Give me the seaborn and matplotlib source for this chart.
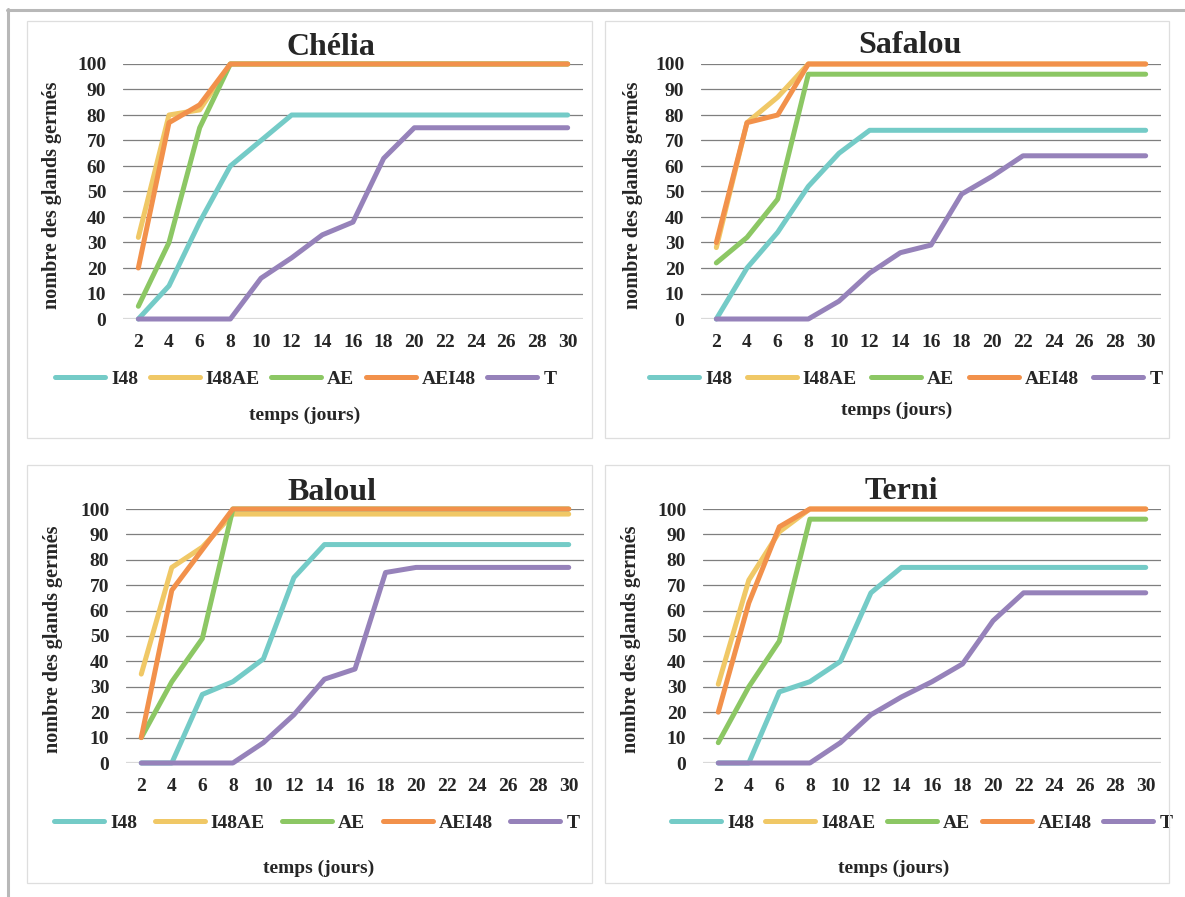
#!/usr/bin/env python3
"""
Germination des glands - 4 provenances (Chélia, Safalou, Baloul, Terni)
"""

import matplotlib
matplotlib.use("Agg")
import matplotlib.pyplot as plt
from matplotlib.patches import Rectangle
from matplotlib.lines import Line2D
import pandas as pd
import seaborn as sns

# --- data -------------------------------------------------------------
jours = [2, 4, 6, 8, 10, 12, 14, 16, 18, 20, 22, 24, 26, 28, 30]
series = ["I48", "I48AE", "AE", "AEI48", "T"]

chelia_I48 = [0, 13, 38, 60, 70, 80, 80, 80, 80, 80, 80, 80, 80, 80, 80]
chelia_I48AE = [32, 80, 82, 100, 100, 100, 100, 100, 100, 100, 100, 100, 100, 100, 100]
chelia_AE = [5, 30, 75, 100, 100, 100, 100, 100, 100, 100, 100, 100, 100, 100, 100]
chelia_AEI48 = [20, 77, 84, 100, 100, 100, 100, 100, 100, 100, 100, 100, 100, 100, 100]
chelia_T = [0, 0, 0, 0, 16, 24, 33, 38, 63, 75, 75, 75, 75, 75, 75]

safalou_I48 = [0, 20, 34, 52, 65, 74, 74, 74, 74, 74, 74, 74, 74, 74, 74]
safalou_I48AE = [28, 77, 87, 100, 100, 100, 100, 100, 100, 100, 100, 100, 100, 100, 100]
safalou_AE = [22, 32, 47, 96, 96, 96, 96, 96, 96, 96, 96, 96, 96, 96, 96]
safalou_AEI48 = [30, 77, 80, 100, 100, 100, 100, 100, 100, 100, 100, 100, 100, 100, 100]
safalou_T = [0, 0, 0, 0, 7, 18, 26, 29, 49, 56, 64, 64, 64, 64, 64]

baloul_I48 = [0, 0, 27, 32, 41, 73, 86, 86, 86, 86, 86, 86, 86, 86, 86]
baloul_I48AE = [35, 77, 85, 98, 98, 98, 98, 98, 98, 98, 98, 98, 98, 98, 98]
baloul_AE = [10, 32, 49, 100, 100, 100, 100, 100, 100, 100, 100, 100, 100, 100, 100]
baloul_AEI48 = [10, 68, 84, 100, 100, 100, 100, 100, 100, 100, 100, 100, 100, 100, 100]
baloul_T = [0, 0, 0, 0, 8, 19, 33, 37, 75, 77, 77, 77, 77, 77, 77]

terni_I48 = [0, 0, 28, 32, 40, 67, 77, 77, 77, 77, 77, 77, 77, 77, 77]
terni_I48AE = [31, 72, 91, 100, 100, 100, 100, 100, 100, 100, 100, 100, 100, 100, 100]
terni_AE = [8, 30, 48, 96, 96, 96, 96, 96, 96, 96, 96, 96, 96, 96, 96]
terni_AEI48 = [20, 63, 93, 100, 100, 100, 100, 100, 100, 100, 100, 100, 100, 100, 100]
terni_T = [0, 0, 0, 0, 8, 19, 26, 32, 39, 56, 67, 67, 67, 67, 67]

sites = ["Chélia", "Safalou", "Baloul", "Terni"]
site_data = {
    "Chélia": [chelia_I48, chelia_I48AE, chelia_AE, chelia_AEI48, chelia_T],
    "Safalou": [safalou_I48, safalou_I48AE, safalou_AE, safalou_AEI48, safalou_T],
    "Baloul": [baloul_I48, baloul_I48AE, baloul_AE, baloul_AEI48, baloul_T],
    "Terni": [terni_I48, terni_I48AE, terni_AE, terni_AEI48, terni_T],
}
yticks = [0, 10, 20, 30, 40, 50, 60, 70, 80, 90, 100]

colors = ["#74CBC7", "#F0C866", "#8CC764", "#F2914B", "#9682BA"]

# --- layout (pixels, origin top-left) ----------------------------------
W, H = 1185, 897
# axes: left, right, top (100), bottom (0)
axes_px = [(123, 583, 64, 319), (701, 1161, 64, 319),
           (126, 584, 509, 763), (703, 1161, 509, 763)]
panels_px = [(27, 592, 21, 438), (605, 1169, 21, 438),
             (27, 592, 465, 883), (605, 1169, 465, 883)]
title_px = [(331, 55), (910, 53), (332, 500), (901, 499)]
ylabel_px = [(52, 195), (633, 195), (53, 639), (631, 639)]
xlabel_px = [(305, 415), (897, 410), (319, 868), (894, 868)]
legend_px = [(55, 379, 9), (649, 379, 12), (54, 823, 15), (671, 823, 9)]


def fx(px):
    return px / W


def fy(py):
    return 1 - py / H


sns.set_style("white")
plt.rcParams['font.family'] = ['Liberation Serif', 'DejaVu Serif']
plt.rcParams['font.weight'] = 'bold'

fig = plt.figure(figsize=(W / 100, H / 100), dpi=100)
fig.patch.set_facecolor('white')

# outer frame (left and top only)
fig.add_artist(Line2D([fx(7.5), fx(7.5)], [fy(9), 0], transform=fig.transFigure,
                      color='#b8b8b8', lw=2.2))
fig.add_artist(Line2D([fx(7), 1], [fy(10.5), fy(10.5)], transform=fig.transFigure,
                      color='#b8b8b8', lw=2.2))

fs = 14
lw = 3.6

for i, site in enumerate(sites):
    pl, pr, pt, pb = panels_px[i]
    fig.add_artist(Rectangle((fx(pl), fy(pb)), fx(pr - pl), (pb - pt) / H,
                             transform=fig.transFigure, fill=False,
                             edgecolor='#dedede', lw=0.9))

    l, r, t, b = axes_px[i]
    ax = fig.add_axes([fx(l), fy(b), fx(r - l), (b - t) / H])

    rows = []
    for name, vals in zip(series, site_data[site]):
        for d, v in zip(jours, vals):
            rows.append({"jour": d, "valeur": v, "serie": name})
    df = pd.DataFrame(rows)

    sns.lineplot(data=df, x="jour", y="valeur", hue="serie", hue_order=series,
                 palette=colors, lw=lw, ax=ax, legend=False,
                 solid_capstyle='round', clip_on=False, zorder=3)
    handles = list(ax.lines[:5])

    ax.set_xlim(1, 31)
    ax.set_ylim(0, 100)
    ax.set_xticks(jours)
    ax.set_xticklabels([str(d) for d in jours])
    ax.set_yticks(yticks)
    ax.tick_params(axis='both', length=0, labelsize=fs)
    ax.tick_params(axis='y', pad=12)
    ax.tick_params(axis='x', pad=11)
    for lab in ax.get_xticklabels() + ax.get_yticklabels():
        lab.set_fontweight('bold')
    ax.yaxis.grid(True, color='#7f7f7f', lw=0.9)
    ax.xaxis.grid(False)
    ax.set_axisbelow(True)
    for sp in ax.spines.values():
        sp.set_visible(False)
    ax.axhline(0, color='#d9d9d9', lw=1.6, zorder=2)
    ax.set_xlabel("")
    ax.set_ylabel("")

    tx, ty = title_px[i]
    fig.text(fx(tx), fy(ty), site, ha='center', va='baseline',
             fontsize=23, fontweight='bold')
    yx, yy = ylabel_px[i]
    fig.text(fx(yx), fy(yy), "nombre des glands germés", rotation=90,
             ha='center', va='center', fontsize=14.5, fontweight='bold')
    xx, xy = xlabel_px[i]
    fig.text(fx(xx), fy(xy), "temps (jours)", ha='center', va='center',
             fontsize=fs, fontweight='bold')

    lx, ly, gap = legend_px[i]
    fpx = fs * 100 / 72
    leg = ax.legend(handles, series, loc='center left',
                    bbox_to_anchor=(fx(lx), fy(ly)), bbox_transform=fig.transFigure,
                    ncol=5, frameon=False, borderpad=0, borderaxespad=0,
                    handlelength=50 / fpx, handletextpad=6 / fpx,
                    columnspacing=(gap + 2.5) / fpx,
                    prop={'size': fs, 'weight': 'bold'})

plt.savefig("out.png", dpi=100)
